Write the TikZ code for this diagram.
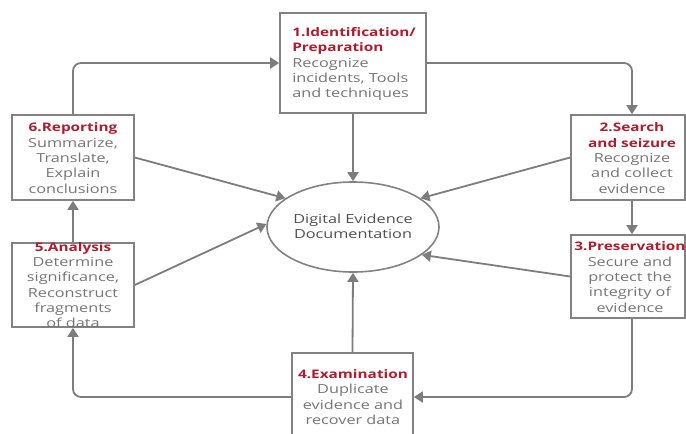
\documentclass[tikz,border=0pt]{standalone}
\usepackage{fontspec}
\setmainfont{Open Sans}
\usetikzlibrary{arrows.meta,shapes.geometric}
\definecolor{linegray}{RGB}{125,125,125}
\definecolor{boxgray}{RGB}{130,130,130}
\definecolor{txtgray}{RGB}{118,118,118}
\definecolor{ttlred}{RGB}{175,28,45}
\definecolor{darktxt}{RGB}{80,80,80}
\newcommand\steptitle[1]{{\fontsize{11.8}{15.3}\selectfont\bfseries\color{ttlred}#1}}
\begin{document}
\begin{tikzpicture}[x=1pt,y=-1pt,
  box/.style={draw=boxgray,line width=1.6pt,inner sep=0pt,fill=white},
  txt/.style={align=center,inner sep=0pt,text=txtgray,font=\fontsize{12.5}{15.3}\selectfont,xscale=1.3},
  conn/.style={draw=linegray,line width=1.8pt,rounded corners=8pt,-{Triangle[length=9pt,width=11pt]}}]
\useasboundingbox (0,0) rectangle (686,434);
\fill[white] (0,0) rectangle (686,434);
% boxes
\node[box,minimum width=146pt,minimum height=100pt] (b1) at (353,63) {};
\node[box,minimum width=114pt,minimum height=85pt] (b2) at (628,157.5) {};
\node[box,minimum width=114pt,minimum height=83pt] (b3) at (628,276.5) {};
\node[box,minimum width=121pt,minimum height=88pt] (b4) at (352.5,397) {};
\node[box,minimum width=122pt,minimum height=84pt] (b5) at (73,285) {};
\node[box,minimum width=122pt,minimum height=85pt] (b6) at (73,157.5) {};
\node[ellipse,draw=boxgray,line width=1.6pt,fill=white,minimum width=172pt,minimum height=90pt,inner sep=0pt] (ell) at (353,227) {};
% cycle connectors
\draw[conn] (b6.north) |- (b1.west);
\draw[conn] (b1.east) -| ([xshift=4pt]b2.north);
\draw[conn] ([xshift=4pt]b2.south) -- ([xshift=4pt]b3.north);
\draw[conn] ([xshift=4pt]b3.south) |- (b4.east);
\draw[conn] (b4.west) -| (b5.south);
\draw[conn] (b5.north) -- (b6.south);
% connectors to the centre
\draw[conn] (b1.south) -- (ell.north);
\draw[conn] (b4.north) -- (ell.south);
\draw[conn] (b6.east) -- (ell.157);
\draw[conn] (b5.east) -- (ell.178);
\draw[conn] (b2.west) -- (ell.23);
\draw[conn] (b3.west) -- (ell.338);
% texts
\node[txt,align=left,anchor=west] (t1) at (292,64) {\steptitle{1.Identification/}\\\steptitle{Preparation}\\Recognize\\incidents, Tools\\and techniques};
\node[txt] (t2) at (632,158) {\steptitle{2.Search}\\\steptitle{and seizure}\\Recognize\\and collect\\evidence};
\node[txt] (t3) at (630,277) {\steptitle{3.Preservation}\\Secure and\\protect the\\integrity of\\evidence};
\node[txt] (t4) at (353,397) {\steptitle{4.Examination}\\Duplicate\\evidence and\\recover data};
\node[txt] (t5) at (73,285) {\steptitle{5.Analysis}\\Determine\\significance,\\Reconstruct\\fragments\\of data};
\node[txt] (t6) at (73,158) {\steptitle{6.Reporting}\\Summarize,\\Translate,\\Explain\\conclusions};
\node[txt,text=darktxt] (te) at (353,226) {Digital Evidence\\Documentation};
\end{tikzpicture}
\end{document}
